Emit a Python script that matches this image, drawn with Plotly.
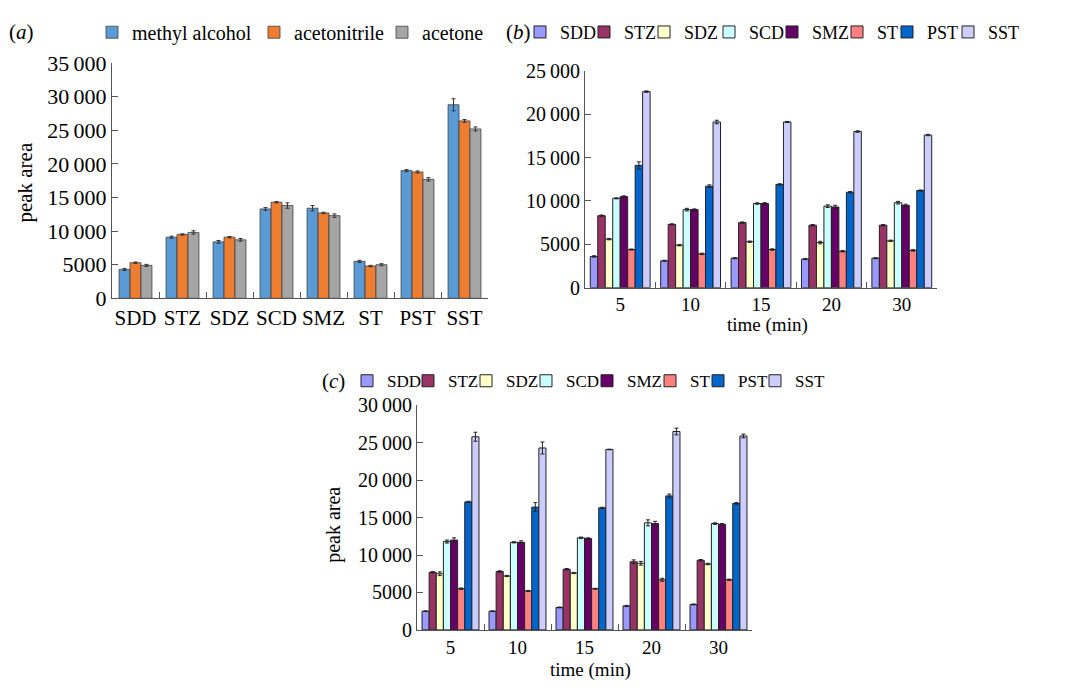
import plotly.graph_objects as go

W, H = 1076, 694
FONT = "Liberation Serif, Times New Roman, Times, serif"

# ---------------- data: panel (a) ----------------
compounds = ["SDD", "STZ", "SDZ", "SCD", "SMZ", "ST", "PST", "SST"]
solvents = ["methyl alcohol", "acetonitrile", "acetone"]
methyl = [4300, 9100, 8400, 13300, 13400, 5500, 19000, 28800]
methyl_err = [150, 150, 200, 200, 400, 150, 150, 900]
acetonitrile = [5300, 9500, 9100, 14300, 12700, 4800, 18800, 26400]
acetonitrile_err = [100, 100, 100, 100, 100, 100, 150, 200]
acetone = [4900, 9800, 8700, 13800, 12300, 5000, 17700, 25200]
acetone_err = [150, 250, 200, 400, 250, 150, 250, 300]

# ---------------- data: panel (b) ----------------
times = ["5", "10", "15", "20", "30"]
b_SDD = [3600, 3100, 3400, 3300, 3400]
b_STZ = [8300, 7300, 7500, 7200, 7200]
b_SDZ = [5600, 4900, 5300, 5200, 5400]
b_SCD = [10300, 9000, 9700, 9400, 9800]
b_SMZ = [10500, 9000, 9700, 9300, 9500]
b_ST = [4400, 3900, 4400, 4200, 4300]
b_PST = [14100, 11700, 11900, 11000, 11200]
b_SST = [22600, 19100, 19100, 18000, 17600]
b_SDD_err = [80, 60, 60, 60, 60]
b_STZ_err = [80, 60, 80, 80, 80]
b_SDZ_err = [80, 80, 80, 150, 80]
b_SCD_err = [60, 150, 80, 150, 150]
b_SMZ_err = [80, 80, 100, 200, 120]
b_ST_err = [60, 80, 80, 80, 80]
b_PST_err = [400, 150, 80, 80, 60]
b_SST_err = [80, 200, 60, 80, 80]

# ---------------- data: panel (c) ----------------
c_SDD = [2500, 2500, 3000, 3200, 3400]
c_STZ = [7700, 7800, 8100, 9100, 9300]
c_SDZ = [7500, 7200, 7600, 8900, 8800]
c_SCD = [11800, 11700, 12300, 14300, 14200]
c_SMZ = [12000, 11700, 12200, 14200, 14100]
c_ST = [5500, 5200, 5500, 6700, 6700]
c_PST = [17100, 16400, 16300, 17900, 16900]
c_SST = [25800, 24300, 24100, 26500, 25900]
c_SDD_err = [40, 40, 60, 80, 60]
c_STZ_err = [80, 100, 100, 250, 100]
c_SDZ_err = [250, 80, 80, 250, 100]
c_SCD_err = [200, 80, 100, 400, 100]
c_SMZ_err = [300, 200, 100, 300, 100]
c_ST_err = [100, 80, 60, 200, 80]
c_PST_err = [80, 600, 80, 250, 100]
c_SST_err = [600, 800, 40, 450, 250]

series_colors_a = ["#5B9BD5", "#ED7D31", "#A5A5A5"]
series_colors_bc = ["#9999FF", "#993366", "#FFFFCC", "#CCFFFF",
                    "#660066", "#FF8080", "#0066CC", "#CCCCFF"]

b_vals = [b_SDD, b_STZ, b_SDZ, b_SCD, b_SMZ, b_ST, b_PST, b_SST]
b_errs = [b_SDD_err, b_STZ_err, b_SDZ_err, b_SCD_err, b_SMZ_err, b_ST_err, b_PST_err, b_SST_err]
c_vals = [c_SDD, c_STZ, c_SDZ, c_SCD, c_SMZ, c_ST, c_PST, c_SST]
c_errs = [c_SDD_err, c_STZ_err, c_SDZ_err, c_SCD_err, c_SMZ_err, c_ST_err, c_PST_err, c_SST_err]


def px_x(p):
    return p / W


def px_y(p):
    return 1 - p / H


def fmt(v):
    s = f"{v:,}".replace(",", "\u2009")
    return "5000" if v == 5000 else s


def font(size):
    return dict(family=FONT, size=size, color="black")


fig = go.Figure()

# panel (a)
lw_a = [117, 83, 80]
for i, (name, vals, errs, col) in enumerate(zip(
        solvents, [methyl, acetonitrile, acetone],
        [methyl_err, acetonitrile_err, acetone_err], series_colors_a)):
    fig.add_trace(go.Bar(
        x=compounds, y=vals, name=name, marker_color=col,
        marker_line=dict(color="#404040", width=0.8),
        error_y=dict(type="data", array=errs, color="#333333", thickness=1, width=2),
        xaxis="x", yaxis="y", legend="legend", legendwidth=lw_a[i],
    ))

# panel (b) and (c): bars fill 85% of each category slot
n = len(compounds)
group_frac = 0.85
bw = group_frac / n
lw_b = [19, 15, 20, 18, 20, 5, 16, 40]
lw_c = [16, 13, 15, 16, 18, 3, 12, 40]
for i, name in enumerate(compounds):
    fig.add_trace(go.Bar(
        x=times, y=b_vals[i], name=name, marker_color=series_colors_bc[i],
        marker_line=dict(color="#222222", width=1),
        width=bw, offset=-group_frac / 2 + i * bw,
        error_y=dict(type="data", array=b_errs[i], color="#222222", thickness=1, width=2),
        xaxis="x2", yaxis="y2", legend="legend2", legendwidth=lw_b[i],
    ))
for i, name in enumerate(compounds):
    fig.add_trace(go.Bar(
        x=times, y=c_vals[i], name=name, marker_color=series_colors_bc[i],
        marker_line=dict(color="#222222", width=1),
        width=bw, offset=-group_frac / 2 + i * bw,
        error_y=dict(type="data", array=c_errs[i], color="#222222", thickness=1, width=2),
        xaxis="x3", yaxis="y3", legend="legend3", legendwidth=lw_c[i],
    ))

axis_common = dict(showline=True, linecolor="#555555", linewidth=1, showgrid=False,
                   zeroline=False, ticks="inside", ticklen=6, tickcolor="#555555",
                   color="black")

ya_vals = list(range(0, 35001, 5000))
yb_vals = list(range(0, 25001, 5000))
yc_vals = list(range(0, 30001, 5000))

fig.update_layout(
    width=W, height=H, margin=dict(l=0, r=0, t=0, b=0),
    paper_bgcolor="white", plot_bgcolor="white",
    font=font(19),
    barmode="group", bargap=0.3, bargroupgap=0,
    xaxis=dict(domain=[px_x(112), px_x(488)], anchor="y", type="category",
               tickson="boundaries", tickangle=0, tickfont=font(21), **axis_common),
    yaxis=dict(domain=[px_y(297), px_y(53)], anchor="x", range=[0, 35000],
               tickvals=ya_vals, ticktext=[fmt(v) for v in ya_vals],
               tickfont=font(22), **axis_common),
    xaxis2=dict(domain=[px_x(585), px_x(937)], anchor="y2", type="category",
                tickson="boundaries", tickangle=0, tickfont=font(19), **axis_common),
    yaxis2=dict(domain=[px_y(286), px_y(61)], anchor="x2", range=[0, 25000],
                tickvals=yb_vals, ticktext=[fmt(v) for v in yb_vals],
                tickfont=font(20), **axis_common),
    xaxis3=dict(domain=[px_x(417), px_x(752)], anchor="y3", type="category",
                tickson="boundaries", tickangle=0, tickfont=font(19), **axis_common),
    yaxis3=dict(domain=[px_y(641), px_y(408)], anchor="x3", range=[0, 30000],
                tickvals=yc_vals, ticktext=[fmt(v) for v in yc_vals],
                tickfont=font(20), **axis_common),
    legend=dict(orientation="h", x=px_x(92), xanchor="left", y=px_y(21), yanchor="middle",
                font=font(20), bgcolor="rgba(0,0,0,0)", traceorder="normal"),
    legend2=dict(orientation="h", x=px_x(520), xanchor="left", y=px_y(21), yanchor="middle",
                 font=font(18), bgcolor="rgba(0,0,0,0)", traceorder="normal"),
    legend3=dict(orientation="h", x=px_x(347), xanchor="left", y=px_y(383), yanchor="middle",
                 font=font(17), bgcolor="rgba(0,0,0,0)", traceorder="normal"),
    showlegend=True,
)

annotations = [
    dict(text="(<i>a</i>)", x=px_x(21), y=px_y(21), size=21),
    dict(text="(<i>b</i>)", x=px_x(518), y=px_y(21), size=21),
    dict(text="(<i>c</i>)", x=px_x(333), y=px_y(383), size=21),
    dict(text="peak area", x=px_x(25), y=px_y(177), textangle=-90, size=21),
    dict(text="peak area", x=px_x(334), y=px_y(532), textangle=-90, size=20),
    dict(text="time (min)", x=px_x(767), y=px_y(325), size=19),
    dict(text="time (min)", x=px_x(590), y=px_y(683), size=19),
]
for a in annotations:
    fig.add_annotation(text=a["text"], x=a["x"], y=a["y"], xref="paper", yref="paper",
                       xanchor="center", yanchor="middle", showarrow=False,
                       textangle=a.get("textangle", 0), font=font(a["size"]))

fig.write_html("out.html")
